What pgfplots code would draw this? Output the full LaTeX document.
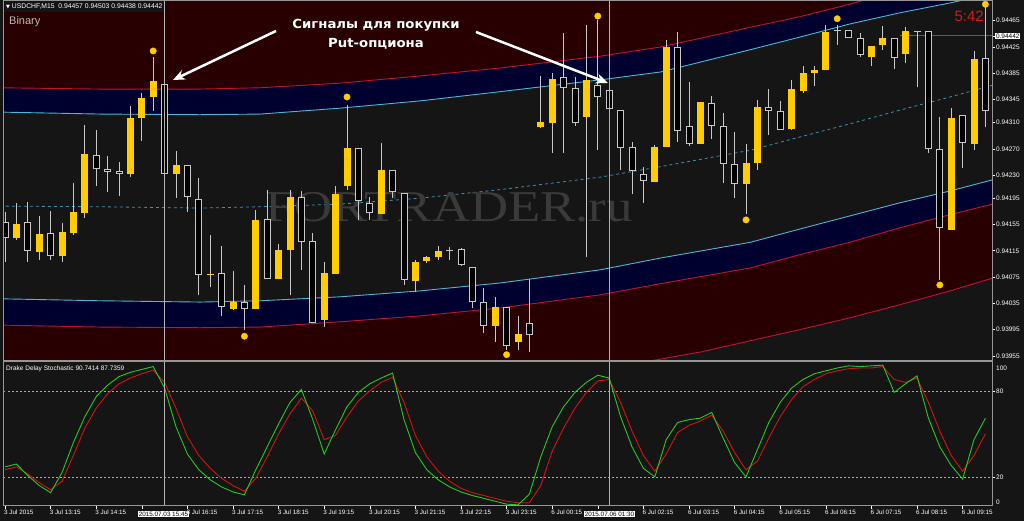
\documentclass[border=0pt]{standalone}
\usepackage{pgfplots}
\pgfplotsset{compat=1.18}
\usepackage{pgfplotstable}
\usetikzlibrary{arrows.meta}
\usepackage{fontspec}
\setmainfont{Liberation Sans}
\newfontfamily\dejavu{DejaVu Sans}
\newfontfamily\wmfont{Liberation Serif}

\definecolor{bgd}{RGB}{21,21,21}
\definecolor{bgred}{RGB}{40,0,2}
\definecolor{navyb}{RGB}{0,0,46}
\definecolor{gold}{RGB}{255,204,0}
\definecolor{cyanl}{RGB}{80,180,215}
\definecolor{redl}{RGB}{190,20,50}
\definecolor{wick}{RGB}{200,200,200}
\definecolor{stgreen}{RGB}{40,200,40}
\definecolor{stred}{RGB}{210,20,20}
\definecolor{framec}{RGB}{150,150,150}
\definecolor{cross}{RGB}{180,180,180}

\pgfplotsset{candle/.style={only marks, mark=*, mark size=0pt, mark options={draw=none, fill=none}, forget plot}}

% prices in points (1 point = 0.00001)
\pgfplotstableread{
i o h l c
1 94135 94188 94131 94156
3 94113 94168 94101 94141
5 94107 94157 94098 94144
6 94142 94218 94139 94174
7 94173 94306 94165 94262
11 94232 94335 94227 94317
12 94317 94355 94282 94347
13 94349 94410 94328 94373
15 94232 94267 94195 94246
18 94078 94139 94060 94080
20 94027 94084 94025 94037
22 94027 94177 94027 94162
24 94072 94125 94072 94116
25 94116 94208 94048 94197
28 94010 94098 93999 94081
29 94080 94214 94080 94201
30 94214 94337 94208 94271
33 94171 94279 94171 94238
36 94069 94101 94052 94098
37 94100 94107 94096 94106
38 94106 94122 94101 94115
43 94001 94045 93976 94030
45 93976 94016 93964 93989
47 94303 94381 94302 94311
48 94309 94385 94264 94376
51 94319 94458 94106 94375
57 94220 94276 94220 94273
58 94273 94436 94273 94425
61 94277 94341 94277 94341
65 94217 94277 94171 94249
66 94249 94344 94238 94334
69 94300 94375 94299 94361
70 94358 94396 94355 94385
71 94385 94396 94366 94390
72 94390 94458 94390 94448
76 94410 94427 94396 94427
77 94428 94457 94420 94439
79 94414 94455 94401 94449
83 94147 94332 94147 94317
85 94277 94419 94268 94407
}\bullC

\pgfplotstableread{
i o h l c
0 94159 94174 94098 94135
2 94159 94189 94098 94115
4 94142 94176 94101 94107
8 94261 94299 94214 94239
9 94239 94259 94204 94235
10 94236 94250 94198 94232
14 94369 94370 94230 94232
16 94246 94246 94174 94197
17 94194 94226 94048 94078
19 94081 94122 94016 94030
21 94037 94063 93995 94027
23 94163 94208 94072 94072
26 94197 94206 94086 94128
27 94130 94142 94005 94005
31 94271 94271 94162 94191
32 94188 94197 94162 94173
34 94238 94238 94195 94204
35 94203 94203 94063 94071
39 94115 94121 94101 94115
40 94118 94119 94092 94093
41 94090 94090 94028 94037
42 94037 94058 93990 94001
44 94030 94030 93964 93970
46 94005 94072 93961 93987
49 94379 94446 94264 94363
50 94363 94379 94305 94309
52 94367 94466 94268 94349
53 94360 94361 94329 94331
54 94329 94329 94238 94271
55 94273 94281 94201 94236
56 94232 94242 94188 94221
59 94425 94448 94281 94297
60 94305 94372 94274 94277
62 94340 94350 94285 94305
63 94305 94325 94218 94247
64 94247 94296 94195 94217
67 94334 94361 94291 94328
68 94328 94343 94299 94299
73 94449 94458 94428 94449
74 94451 94451 94439 94439
75 94439 94446 94410 94413
78 94439 94439 94392 94408
80 94449 94449 94364 94448
81 94449 94449 94264 94270
82 94270 94319 94071 94150
84 94322 94322 94241 94279
86 94408 94486 94303 94328
}\bearC

\pgfplotstableread{
i p
13 94419
21 93985
30 94349
44 93957
52 94472
65 94162
73 94468
82 94063
86 94490
}\sigC

\pgfplotstableread{
i g r
0 27 25
1 29 27
2 21 22
3 14 16
4 9 11
5 23 17
6 44 35
7 62 54
8 76 68
9 84 78
10 90 85
11 93 89
12 95 92
13 97 94.5
14 82 86
15 55 68
16 36 48
17 25 35
18 18 26
19 13 19
20 9.5 14
21 7.5 10
22 25 19
23 41 34
24 57 50
25 72 64
26 81 75
27 60 66
28 36 46
29 53 49
30 69 62
31 79 73
32 85 80
33 89 86
34 92.5 89.5
35 60 72
36 37 49
37 25 34
38 18 24
39 13 17
40 9.5 12
41 7 9
42 5 7
43 3 5
44 1 3
45 0.5 2
46 8 2
47 34 14
48 55 38
49 69 54
50 79 68
51 86 79
52 91 87
53 89 88
54 62 72
55 41 52
56 26 35
57 20 24
58 46 36
59 58 51
60 60 56
61 61 59
62 65 63
63 47 52
64 30 37
65 20 25
66 39 31
67 58 47
68 72 62
69 82 74
70 88 83
71 92 88
72 94 92
73 96 94
74 97.5 95.5
75 97 96
76 97.5 96
77 98 97
78 79 88
79 85 86
80 90.5 89
81 61 72
82 41 52
83 28 35
84 18.5 24
85 46 35
86 61 50
}\stochC

\begin{document}
\begin{tikzpicture}[x=1pt,y=1pt]
\fill[bgd] (0pt,0pt) rectangle (1024pt,521pt);

% ---------------- main price panel ----------------
\begin{axis}[
  at={(4pt,161pt)}, anchor=south west, scale only axis,
  width=988pt, height=359pt,
  xmin=-0.088, xmax=86.58, ymin=93948.9, ymax=94495,
  axis background/.style={fill=bgred},
  axis line style={draw=none},
  xtick=\empty,
  ytick={93955,93995,94035,94075,94115,94155,94195,94230,94270,94310,94345,94385,94425,94465},
  yticklabels={0.93955,0.93995,0.94035,0.94075,0.94115,0.94155,0.94195,0.94230,0.94270,0.94310,0.94345,0.94385,0.94425,0.94465},
  ytick pos=right, yticklabel pos=right,
  tick align=outside, major tick length=3pt,
  tick style={white, line width=0.6pt},
  yticklabel style={font=\fontsize{6.5}{7}\selectfont, text=white, inner sep=1pt},
  extra y ticks={94442},
  extra y tick labels={0.94442},
  extra y tick style={yticklabel style={fill=white, text=black, inner sep=0.8pt}},
]
% band fills
\addplot[fill=navyb, draw=none] coordinates {(-0.44,94363) (8.33,94361) (17.1,94361) (22.4,94363) (29.4,94370) (36.4,94381) (43.4,94393) (52.2,94411) (57.5,94425) (65.4,94455) (69.7,94471) (74.1,94490) (78.5,94512) (87.3,94557) (87.3,94189) (82.9,94170) (78.5,94150) (74.1,94128) (69.7,94109) (65.4,94089) (57.5,94065) (52.2,94048) (43.4,94028) (36.4,94016) (29.4,94007) (22.4,93999) (17.1,93998) (8.33,93999) (-0.44,94002)} -- cycle;
\addplot[fill=bgd, draw=none] coordinates {(-0.44,94326) (8.33,94323) (17.1,94322) (22.4,94323) (29.4,94332) (36.4,94343) (43.4,94357) (52.2,94375) (57.5,94387) (65.4,94421) (69.7,94440) (74.1,94460) (78.5,94477) (82.9,94492) (87.3,94509) (87.3,94226) (82.9,94206) (78.5,94188) (74.1,94168) (69.7,94148) (65.4,94128) (57.5,94104) (52.2,94086) (43.4,94066) (36.4,94054) (29.4,94045) (22.4,94039) (17.1,94037) (8.33,94039) (-0.44,94042)} -- cycle;
\addplot[fill=bgd, draw=none] coordinates {(43.4,93903) (52.2,93934) (61.0,93961) (69.7,93995) (74.1,94013) (78.5,94033) (82.9,94054) (87.3,94077) (87.3,93900) (43.4,93900)} -- cycle;
% band lines
\addplot[redl, line width=0.9pt] coordinates {(-0.44,94363) (8.33,94361) (17.1,94361) (22.4,94363) (29.4,94370) (36.4,94381) (43.4,94393) (52.2,94411) (57.5,94425) (65.4,94455) (69.7,94471) (74.1,94490) (78.5,94512) (87.3,94557)};
\addplot[redl, line width=0.9pt] coordinates {(-0.44,94002) (8.33,93999) (17.1,93998) (22.4,93999) (29.4,94007) (36.4,94016) (43.4,94028) (52.2,94048) (57.5,94065) (65.4,94089) (69.7,94109) (74.1,94128) (78.5,94150) (82.9,94170) (87.3,94189)};
\addplot[redl, line width=0.9pt] coordinates {(43.4,93903) (52.2,93934) (61.0,93961) (69.7,93995) (74.1,94013) (78.5,94033) (82.9,94054) (87.3,94077)};
\addplot[cyanl, line width=0.9pt] coordinates {(-0.44,94326) (8.33,94323) (17.1,94322) (22.4,94323) (29.4,94332) (36.4,94343) (43.4,94357) (52.2,94375) (57.5,94387) (65.4,94421) (69.7,94440) (74.1,94460) (78.5,94477) (82.9,94492) (87.3,94509)};
\addplot[cyanl, line width=0.9pt] coordinates {(-0.44,94042) (8.33,94039) (17.1,94037) (22.4,94039) (29.4,94045) (36.4,94054) (43.4,94066) (52.2,94086) (57.5,94104) (65.4,94128) (69.7,94148) (74.1,94168) (78.5,94188) (82.9,94206) (87.3,94226)};
\addplot[cyanl!80!black, line width=0.8pt, dash pattern=on 3pt off 3pt] coordinates {(-0.44,94183) (8.33,94182) (17.1,94180) (22.4,94182) (29.4,94186) (36.4,94195) (43.4,94208) (52.2,94227) (57.5,94243) (65.4,94268) (69.7,94288) (74.1,94308) (78.5,94329) (82.9,94349) (87.3,94370)};
% watermark
\node[anchor=base, text={rgb,255:red,58;green,58;blue,58}, font=\wmfont\fontsize{44}{44}\selectfont, xscale=1.2] at (rel axis cs:0.4504,0.3844) {FORTRADER.ru};
% bid line
\addplot[color={rgb,255:red,90;green,90;blue,90}, line width=0.8pt] coordinates {(78.5,94443) (87,94443)};
% wicks
\addplot[candle, error bars/.cd, y dir=plus, y explicit, error mark=none, error bar style={draw=wick, line width=1pt}] table[x=i, y=l, y error plus expr=\thisrow{h}-\thisrow{l}] {\bullC};
\addplot[candle, error bars/.cd, y dir=plus, y explicit, error mark=none, error bar style={draw=wick, line width=1pt}] table[x=i, y=l, y error plus expr=\thisrow{h}-\thisrow{l}] {\bearC};
% bull bodies
\addplot[candle, error bars/.cd, y dir=plus, y explicit, error mark=none, error bar style={draw=gold, line width=7pt}] table[x=i, y=o, y error plus expr={max(\thisrow{c}-\thisrow{o},1.5)}] {\bullC};
% bear bodies
\addplot[candle, error bars/.cd, y dir=plus, y explicit, error mark=none, error bar style={draw=wick, line width=7pt}] table[x=i, y=c, y error plus expr={max(\thisrow{o}-\thisrow{c},1.5)}] {\bearC};
\addplot[candle, error bars/.cd, y dir=plus, y explicit, error mark=none, error bar style={draw=black, line width=5pt}] table[x=i, y expr=\thisrow{c}+1.5, y error plus expr={max(\thisrow{o}-\thisrow{c}-3,0)}] {\bearC};
% signal dots
\addplot[only marks, mark=*, mark size=3.2pt, mark options={draw=gold, fill=gold}] table[x=i, y=p] {\sigC};
% crosshair
\addplot[cross, line width=0.8pt] coordinates {(14,93949) (14,94495)};
\addplot[cross, line width=0.8pt] coordinates {(53,93949) (53,94495)};
\end{axis}

% ---------------- stochastic panel ----------------
\begin{axis}[
  at={(4pt,15pt)}, anchor=south west, scale only axis,
  width=988pt, height=144pt,
  xmin=-0.088, xmax=86.58, ymin=-0.3, ymax=100.2,
  axis background/.style={fill=bgd},
  axis line style={draw=none},
  xtick={0,4,...,84},
  xticklabels={3 Jul 2015,3 Jul 13:15,3 Jul 14:15,,3 Jul 16:15,3 Jul 17:15,3 Jul 18:15,3 Jul 19:15,3 Jul 20:15,3 Jul 21:15,3 Jul 22:15,3 Jul 23:15,6 Jul 00:15,,6 Jul 02:15,6 Jul 03:15,6 Jul 04:15,6 Jul 05:15,6 Jul 06:15,6 Jul 07:15,6 Jul 08:15,6 Jul 09:15},
  xtick pos=bottom, ytick pos=right, yticklabel pos=right,
  tick align=outside, major tick length=3pt,
  tick style={white, line width=0.6pt},
  xticklabel style={font=\fontsize{6.3}{7}\selectfont, text=white, anchor=north west, inner sep=0pt, xshift=-1pt, yshift=-1pt},
  ytick={20,80}, yticklabels={20,80},
  yticklabel style={font=\fontsize{6.5}{7}\selectfont, text=white, inner sep=1pt},
]
\addplot[color={rgb,255:red,170;green,170;blue,170}, line width=0.8pt, dash pattern=on 1.5pt off 2.5pt] coordinates {(-0.088,80) (86.58,80)};
\addplot[color={rgb,255:red,170;green,170;blue,170}, line width=0.8pt, dash pattern=on 1.5pt off 2.5pt] coordinates {(-0.088,20) (86.58,20)};
\addplot[stred, line width=0.9pt] table[x=i, y=r] {\stochC};
\addplot[stgreen, line width=0.9pt] table[x=i, y=g] {\stochC};
\addplot[cross, line width=0.8pt] coordinates {(14,-0.3) (14,100.2)};
\addplot[cross, line width=0.8pt] coordinates {(53,-0.3) (53,100.2)};
\end{axis}

% frames
\draw[framec, line width=1pt] (3,15) rectangle (992,520);
\draw[framec, line width=2pt] (3,160) -- (992,160);

% header
\fill[black!92] (4,508.5) rectangle (163.5,519.5);
\node[anchor=west, text=white, inner sep=0pt, font=\fontsize{6.8}{7}\selectfont] at (6,514) {{\dejavu\fontsize{5}{6}\selectfont ▼}\ USDCHF,M15\ \ 0.94457 0.94503 0.94438 0.94442};
\node[anchor=west, text={rgb,255:red,185;green,185;blue,185}, inner sep=0pt, font=\fontsize{11}{12}\selectfont] at (9,499) {Binary};
\node[anchor=east, text={rgb,255:red,215;green,25;blue,25}, inner sep=0pt, font=\fontsize{15}{16}\selectfont] at (984,505) {5:42};

% annotation
\node[text=white, inner sep=0pt, xscale=1.06, font=\dejavu\bfseries\fontsize{12.5}{14}\selectfont] at (376,496) {Сигналы для покупки};
\node[text=white, inner sep=0pt, xscale=1.06, font=\dejavu\bfseries\fontsize{12.5}{14}\selectfont] at (376,477) {Put-опциона};
\draw[white, line width=2.5pt, -{Stealth[length=12pt, width=10pt]}] (276,490) -- (173,441);
\draw[white, line width=2.5pt, -{Stealth[length=12pt, width=10pt]}] (476,489) -- (608,438);

% stochastic panel texts
\node[anchor=west, text=white, inner sep=0pt, font=\fontsize{6.5}{7}\selectfont] at (6,152) {Drake Delay Stochastic 90.7414 87.7359};
\node[anchor=west, text=white, inner sep=0pt, font=\fontsize{6.5}{7}\selectfont] at (996,153) {100};
\node[anchor=west, text=white, inner sep=0pt, font=\fontsize{6.5}{7}\selectfont] at (996,19) {0};

% crosshair time labels
\node[fill=white, text=black, inner sep=1pt, font=\fontsize{6.3}{7}\selectfont] at (163.5,7) {2015.07.03 15:45};
\node[fill=white, text=black, inner sep=1pt, font=\fontsize{6.3}{7}\selectfont] at (609.5,7) {2015.07.06 01:30};

\pgfresetboundingbox
\path[use as bounding box] (0pt,0pt) rectangle (1024pt,521pt);
\end{tikzpicture}
\end{document}
